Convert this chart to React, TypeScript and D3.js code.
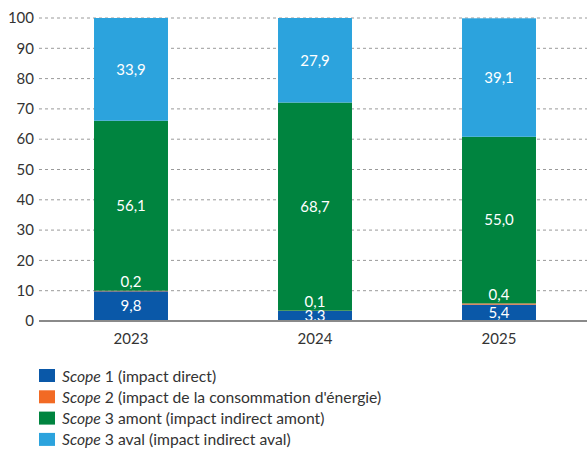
import React from "react";
import * as d3 from "d3";

const years = ["2023", "2024", "2025"];
const scope1 = [9.8, 3.3, 5.4];
const scope2 = [0.2, 0.1, 0.4];
const scope3Amont = [56.1, 68.7, 55.0];
const scope3Aval = [33.9, 27.9, 39.1];
const yTicks = [0, 10, 20, 30, 40, 50, 60, 70, 80, 90, 100];
const seriesNames = [
  { italic: "Scope", rest: " 1 (impact direct)" },
  { italic: "Scope", rest: " 2 (impact de la consommation d'énergie)" },
  { italic: "Scope", rest: " 3 amont (impact indirect amont)" },
  { italic: "Scope", rest: " 3 aval (impact indirect aval)" },
];
const colors = ["#0a58a8", "#f26a24", "#00843f", "#2ca3dd"];

const fmt = (v: number) => v.toFixed(1).replace(".", ",");

export default function App() {
  const W = 587, H = 458;
  const x = d3.scaleBand<string>().domain(years).range([39, 591]).paddingInner(0.598).paddingOuter(0.299);
  const y = d3.scaleLinear().domain([0, 100]).range([321, 18]);
  const series = [scope1, scope2, scope3Amont, scope3Aval];
  const data = years.map((yr, i) => {
    const o: any = { year: yr };
    series.forEach((s, k) => (o["s" + k] = s[i]));
    return o;
  });
  const stack = d3.stack<any>().keys(["s0", "s1", "s2", "s3"])(data);
  const font = "Lato, 'Open Sans', sans-serif";
  const textColor = "#333";

  return (
    <svg width={W} height={H} style={{ position: "absolute", left: 0, top: 0 }} fontFamily={font}>
      {yTicks.map((t) => (
        <g key={t}>
          {t > 0 && (
            <line x1={39} x2={587} y1={y(t)} y2={y(t)} stroke="#9a9a9a" strokeWidth={1} strokeDasharray="3,3" />
          )}
          <text x={34} y={y(t)} dy="0.35em" textAnchor="end" fontSize={15} fill={textColor}>
            {t}
          </text>
        </g>
      ))}
      {stack.map((layer, k) =>
        layer.map((d, i) => (
          <rect
            key={k + "-" + i}
            x={x(years[i])}
            width={x.bandwidth()}
            y={y(d[1])}
            height={y(d[0]) - y(d[1])}
            fill={colors[k]}
          />
        ))
      )}
      {stack.map((layer, k) =>
        layer.map((d, i) => {
          const v = series[k][i];
          const cy = k === 1 ? y(d[1]) - 9 : (y(d[0]) + y(d[1])) / 2;
          return (
            <text
              key={"l" + k + "-" + i}
              x={(x(years[i]) as number) + x.bandwidth() / 2}
              y={cy}
              dy="0.35em"
              textAnchor="middle"
              fontSize={15}
              fill="#fff"
            >
              {fmt(v)}
            </text>
          );
        })
      )}
      <line x1={39} x2={587} y1={321} y2={321} stroke="#8a8a8a" strokeWidth={2} />
      {years.map((yr) => (
        <text
          key={yr}
          x={(x(yr) as number) + x.bandwidth() / 2}
          y={339}
          dy="0.35em"
          textAnchor="middle"
          fontSize={15}
          fill={textColor}
        >
          {yr}
        </text>
      ))}
      {seriesNames.map((s, k) => (
        <g key={k} transform={`translate(39, ${376 + k * 21.3})`}>
          <rect x={0} y={-7} width={16} height={13} fill={colors[k]} />
          <text x={23} y={0} dy="0.35em" fontSize={15.7} fill={textColor}>
            <tspan fontStyle="italic">{s.italic}</tspan>
            <tspan>{s.rest}</tspan>
          </text>
        </g>
      ))}
    </svg>
  );
}
